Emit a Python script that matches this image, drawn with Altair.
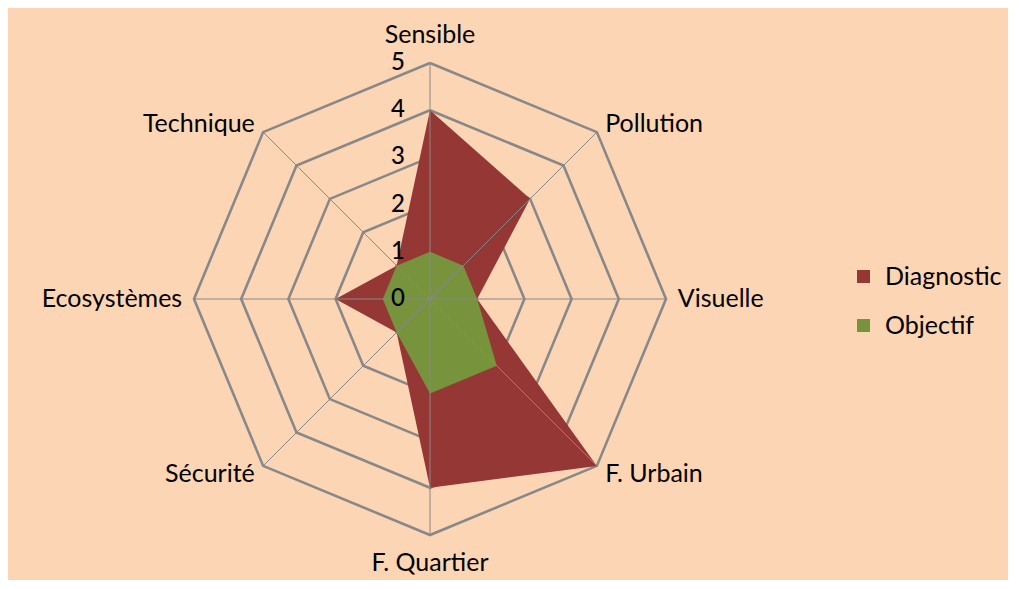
import altair as alt
import pandas as pd

categories = ["Sensible", "Pollution", "Visuelle", "F. Urbain",
              "F. Quartier", "Sécurité", "Ecosystèmes", "Technique"]
diagnostic = [4, 3, 1, 5, 4, 1, 2, 1]
objectif = [1, 1, 1, 2, 2, 1, 1, 1]
series_names = ["Diagnostic", "Objectif"]
levels = [1, 2, 3, 4, 5]
tick_values = [0, 1, 2, 3, 4, 5]
tick_labels = ["0", "1", "2", "3", "4", "5"]

n = len(categories)
FONT = "Lato"
BG = "#FCD5B4"
GRID = "#888888"

# polygon rows (closed by repeating the first vertex)
poly_rows = []
for name, vals in zip(series_names, [diagnostic, objectif]):
    for i in range(n + 1):
        poly_rows.append({"series": name, "idx": i, "value": vals[i % n]})
poly_df = pd.DataFrame(poly_rows)

ring_rows = []
for lv in levels:
    for i in range(n + 1):
        ring_rows.append({"level": lv, "idx": i})
ring_df = pd.DataFrame(ring_rows)

spoke_df = pd.DataFrame({"idx": list(range(n)), "cat": categories})
tick_df = pd.DataFrame({"level": tick_values, "label": tick_labels})

PX = 47.2  # px per unit
W, H = 1000, 572
cx, cy = 422, 291
xs = alt.Scale(domain=[-cx / PX, (W - cx) / PX], nice=False, zero=False)
ys = alt.Scale(domain=[-(H - cy) / PX, cy / PX], nice=False, zero=False)

rmax = max(levels)

rings = alt.Chart(ring_df).transform_calculate(
    ang=f"datum.idx*2*PI/{n}",
    px="datum.level*sin(datum.ang)",
    py="datum.level*cos(datum.ang)",
).mark_line(stroke=GRID, strokeWidth=2.6).encode(
    x=alt.X("px:Q", scale=xs, axis=None),
    y=alt.Y("py:Q", scale=ys, axis=None),
    detail="level:N",
    order="idx:Q",
)

fill_scale = alt.Scale(domain=series_names, range=["#953735", "#77933C"])

def poly_layer(name):
    return alt.Chart(poly_df).transform_filter(
        alt.datum.series == name
    ).transform_calculate(
        ang=f"datum.idx*2*PI/{n}",
        px="datum.value*sin(datum.ang)",
        py="datum.value*cos(datum.ang)",
    ).mark_line(strokeWidth=0, strokeOpacity=0, fillOpacity=1).encode(
        x=alt.X("px:Q", scale=xs, axis=None),
        y=alt.Y("py:Q", scale=ys, axis=None),
        order="idx:Q",
        fill=alt.Fill(
            "series:N", scale=fill_scale,
            legend=alt.Legend(
                title=None, orient="none", legendX=843, legendY=256,
                symbolType="square", symbolSize=169, symbolStrokeWidth=0,
                labelFont=FONT, labelFontSize=25, labelColor="#000000",
                labelOffset=9, rowPadding=23, padding=0,
            ),
        ),
    )

spokes = alt.Chart(spoke_df).transform_calculate(
    ang=f"datum.idx*2*PI/{n}",
    px=f"{rmax}*sin(datum.ang)",
    py=f"{rmax}*cos(datum.ang)",
).mark_rule(color=GRID, strokeWidth=1).encode(
    x=alt.X("px:Q", scale=xs, axis=None),
    y=alt.Y("py:Q", scale=ys, axis=None),
    x2=alt.datum(0),
    y2=alt.datum(0),
)

def label_layer(cond, align):
    return alt.Chart(spoke_df).transform_calculate(
        ang=f"datum.idx*2*PI/{n}",
        s="sin(datum.ang)",
        r=f"abs(sin(datum.ang)) < 0.01 ? {rmax}*1.12 : {rmax}*1.05",
        lx="datum.r*sin(datum.ang)",
        ly="datum.r*cos(datum.ang)",
    ).transform_filter(cond).mark_text(
        font=FONT, fontSize=25, color="#000000", align=align, baseline="middle"
    ).encode(
        x=alt.X("lx:Q", scale=xs, axis=None),
        y=alt.Y("ly:Q", scale=ys, axis=None),
        text="cat:N",
    )

lab_c = label_layer("abs(datum.s) < 0.01", "center")
lab_l = label_layer("datum.s >= 0.01", "left")
lab_r = label_layer("datum.s <= -0.01", "right")

ticks = alt.Chart(tick_df).mark_text(
    font=FONT, fontSize=24, fontWeight=500, color="#000000",
    align="right", baseline="middle", dx=-25
).encode(
    x=alt.datum(0, scale=xs),
    y=alt.Y("level:Q", scale=ys, axis=None),
    text="label:N",
)

chart = alt.layer(
    rings, poly_layer("Diagnostic"), poly_layer("Objectif"), spokes,
    lab_c, lab_l, lab_r, ticks,
).properties(
    width=W, height=H, background=BG, padding=0,
    autosize=alt.AutoSizeParams(type="none"),
).configure_view(stroke=None)

chart.save("out.html", embed_options={"renderer": "svg", "actions": False})
